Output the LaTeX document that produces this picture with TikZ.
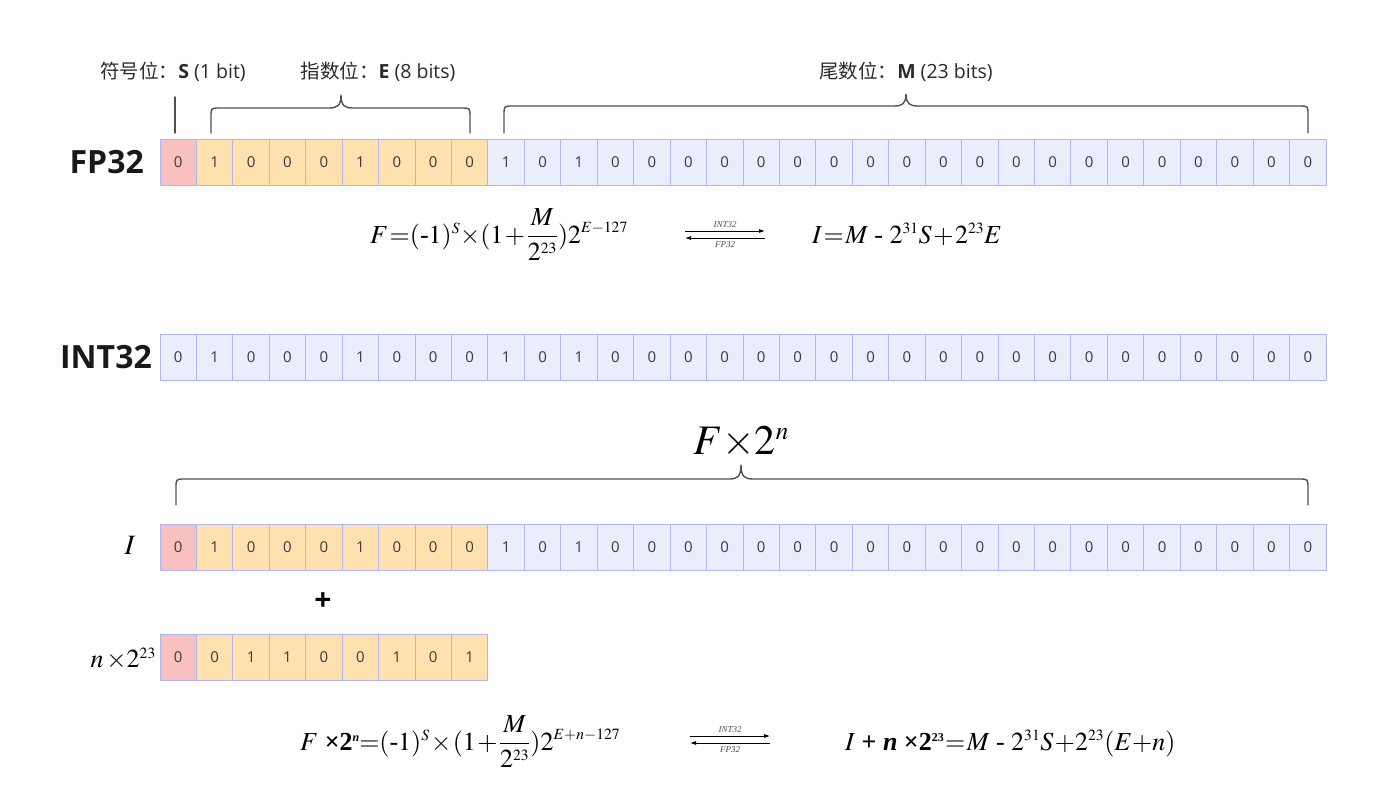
\documentclass[tikz,border=0pt]{standalone}
\usepackage{mathptmx}
\usepackage{fontspec}
\setmainfont{Liberation Serif}
\setsansfont{Open Sans}
\newfontfamily\cjk{Noto Sans CJK SC}
\newfontfamily\opensans{Open Sans}
\usetikzlibrary{arrows.meta}
\definecolor{sgn}{HTML}{F8C0C0}
\definecolor{expc}{HTML}{FFE1B0}
\definecolor{man}{HTML}{EAEDFC}
\definecolor{cellbd}{HTML}{B0B6EE}
\definecolor{digit}{HTML}{3A3A3A}
\definecolor{brc}{HTML}{505050}
\definecolor{txt}{HTML}{2A2A2A}
\newcommand\sups[1]{^{\scriptscriptstyle #1}}
\tikzset{
  cell/.style={draw=cellbd, line width=0.9pt, minimum width=36.4375pt, minimum height=46pt,
    inner sep=0pt, outer sep=0pt, anchor=north west, font=\opensans\fontsize{15}{17}\selectfont, text=digit},
  braceln/.style={draw=brc, line width=1.4pt, line cap=round, line join=round},
  toplbl/.style={font=\opensans\fontsize{19.5}{22}\selectfont, text=txt, inner sep=0pt},
  rowlbl/.style={font=\opensans\bfseries\fontsize{32}{36}\selectfont, text=black!90, inner sep=0pt, anchor=east},
  mathlbl/.style={font=\fontsize{28}{32}\selectfont, text=black, inner sep=0pt},
  formula/.style={font=\fontsize{26}{30}\selectfont, text=black, inner sep=0pt, anchor=base west,
    execute at begin node={\thinmuskip=1mu\medmuskip=1mu\thickmuskip=1.5mu}},
  conv/.style={draw=black, line width=0.8pt, -{Latex[length=6pt,width=4pt]}},
  convlbl/.style={font=\itshape\fontsize{9}{10}\selectfont, text=black!70, inner sep=0pt}
}
\newcommand\mybrace[6]{%
  \draw[braceln] ({#1},{#4}) -- ({#1},{#5+9}) .. controls ({#1},{#5}) .. ({#1+9},{#5})
    -- ({#3-12},{#5}) .. controls ({#3-4},{#5}) and ({#3},{#5-2}) .. ({#3},{#6})
    .. controls ({#3},{#5-2}) and ({#3+4},{#5}) .. ({#3+12},{#5})
    -- ({#2-9},{#5}) .. controls ({#2},{#5}) .. ({#2},{#5+9}) -- ({#2},{#4});}
\begin{document}
\begin{tikzpicture}[x=1pt,y=-1pt]
\useasboundingbox[fill=white] (0,0) rectangle (1385,797);

% ---- top labels
\node[toplbl] (lblS) at (173,72) {{\cjk 符号位：}\textbf{S} (1 bit)};
\node[toplbl] (lblE) at (378,72) {{\cjk 指数位：}\textbf{E} (8 bits)};
\node[toplbl] (lblM) at (906,72) {{\cjk 尾数位：}\textbf{M} (23 bits)};
\draw[braceln] (175,97) -- (175,133);
\mybrace{211}{470}{341}{133}{108}{95}
\mybrace{504}{1308}{906}{133}{106}{94}

% ---- FP32 row
\node[rowlbl] (lfp) at (144,162) {FP32};
\foreach \b [count=\i from 0] in {0,1,0,0,0,1,0,0,0,1,0,1,0,0,0,0,0,0,0,0,0,0,0,0,0,0,0,0,0,0,0,0}{
  \ifnum\i=0 \def\fc{sgn}\else\ifnum\i<9 \def\fc{expc}\else\def\fc{man}\fi\fi
  \pgfmathsetmacro\cx{160+\i*36.4375}
  \node[cell, fill=\fc] (fp\i) at (\cx,139) {\b};
}

% ---- formula 1
\node[formula] (f1l) at (370,243) {$F\,{=}(\mbox{-}1)\sups{S}{\times}(1+\displaystyle\frac{M}{2\sups{23}})2\sups{E{-}127}$};
\coordinate (a1l) at (685,231); \coordinate (a1r) at (765,231);
\coordinate (b1l) at (685,238); \coordinate (b1r) at (765,238);
\draw[conv] (a1l) -- (a1r);
\draw[conv] (b1r) -- (b1l);
\node[convlbl] (c1t) at (725,225) {INT32};
\node[convlbl] (c1b) at (725,245) {FP32};
\node[formula] (f1r) at (812,243) {$I\,{=}\,M\mbox{ - }2\sups{31}S+2\sups{23}E$};

% ---- INT32 row
\node[rowlbl] (lint) at (152,357) {INT32};
\foreach \b [count=\i from 0] in {0,1,0,0,0,1,0,0,0,1,0,1,0,0,0,0,0,0,0,0,0,0,0,0,0,0,0,0,0,0,0,0}{
  \pgfmathsetmacro\cx{160+\i*36.4375}
  \node[cell, fill=man] (in\i) at (\cx,334) {\b};
}

% ---- F x 2^n brace
\node[mathlbl, font=\fontsize{42}{46}\selectfont] (fx) at (741,442) {$F{\times}2^{\scriptscriptstyle n}$};
\mybrace{176}{1308}{741}{505}{479}{465}

% ---- I row
\node[mathlbl] (li) at (130,545) {$I$};
\foreach \b [count=\i from 0] in {0,1,0,0,0,1,0,0,0,1,0,1,0,0,0,0,0,0,0,0,0,0,0,0,0,0,0,0,0,0,0,0}{
  \ifnum\i=0 \def\fc{sgn}\else\ifnum\i<9 \def\fc{expc}\else\def\fc{man}\fi\fi
  \pgfmathsetmacro\cx{160+\i*36.4375}
  \node[cell, fill=\fc] (ir\i) at (\cx,524) {\b};
}
\node[font=\opensans\bfseries\fontsize{30}{32}\selectfont, inner sep=0pt] (plus) at (323,602) {+};

% ---- n x 2^23 row
\node[mathlbl, anchor=east, font=\fontsize{26}{30}\selectfont] (ln) at (156,659) {$n\,{\times}2^{\scriptscriptstyle 23}$};
\foreach \b [count=\i from 0] in {0,0,1,1,0,0,1,0,1}{
  \ifnum\i=0 \def\fc{sgn}\else\def\fc{expc}\fi
  \pgfmathsetmacro\cx{160+\i*36.4375}
  \node[cell, fill=\fc] (nr\i) at (\cx,634) {\b};
}

% ---- formula 2
\node[formula] (f2l) at (300,750) {$F\ \mbox{\bfseries ×2\raisebox{0.75ex}{\fontsize{12}{12}\selectfont\itshape n}}{=}(\mbox{-}1)\sups{S}\,{\times}\,(1+\displaystyle\frac{M}{2\sups{23}})2\sups{E{+}n{-}127}$};
\coordinate (a2l) at (690,736); \coordinate (a2r) at (770,736);
\coordinate (b2l) at (690,743); \coordinate (b2r) at (770,743);
\draw[conv] (a2l) -- (a2r);
\draw[conv] (b2r) -- (b2l);
\node[convlbl] (c2t) at (730,730) {INT32};
\node[convlbl] (c2b) at (730,750) {FP32};
\node[formula] (f2r) at (845,750) {$I\mbox{\bfseries\ + \itshape n \upshape×2\raisebox{0.75ex}{\fontsize{12}{12}\selectfont 23}}\,{=}\,M\mbox{ - }2\sups{31}S\,{+}2\sups{23}(E{+}n)$};
\end{tikzpicture}
\end{document}
